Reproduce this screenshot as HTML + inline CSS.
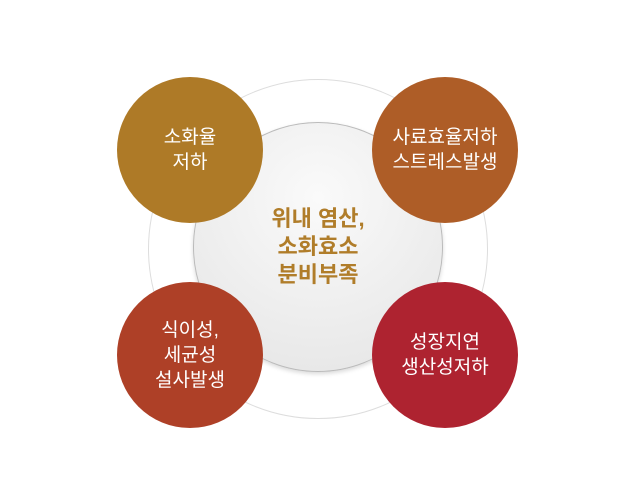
<!DOCTYPE html>
<html><head><meta charset="utf-8"><style>
body{margin:0;width:628px;height:486px;background:#fff;overflow:hidden;position:relative;font-family:"Liberation Sans","Noto Sans CJK KR",sans-serif}
.c{position:absolute;border-radius:50%;display:flex;align-items:center;justify-content:center;text-align:center;color:#fff;font-size:19px;line-height:25px}
</style></head><body>
<div style="position:absolute;left:148px;top:79px;width:338px;height:338px;border-radius:50%;border:1px solid #ddd;background:#fff"></div>
<div class="c" style="left:193px;top:122px;width:248px;height:248px;border:1px solid #bbb;background:radial-gradient(circle at 50% 30%,#fafafa,#e4e4e4);box-shadow:0 2px 4px rgba(0,0,0,.15);color:#b07d2a;font-size:22px;font-weight:bold;line-height:28px">위내 염산,<br>소화효소<br>분비부족</div>
<div class="c" style="left:117px;top:77px;width:146px;height:146px;background:#ae7a27">소화율<br>저하</div>
<div class="c" style="left:372px;top:77px;width:146px;height:146px;background:#ae5d27">사료효율저하<br>스트레스발생</div>
<div class="c" style="left:117px;top:282px;width:146px;height:146px;background:#ae4027">식이성,<br>세균성<br>설사발생</div>
<div class="c" style="left:372px;top:282px;width:146px;height:146px;background:#ae2330">성장지연<br>생산성저하</div>
</body></html>
